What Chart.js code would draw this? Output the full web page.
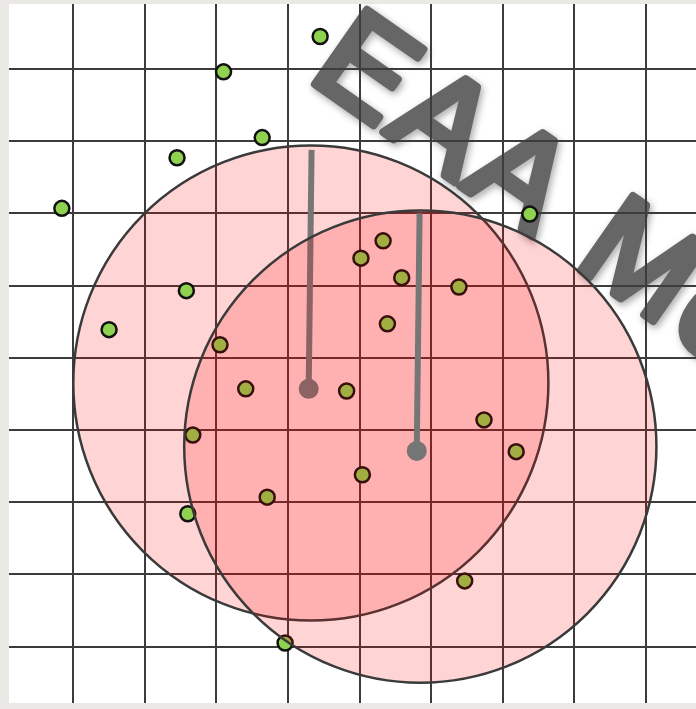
<!DOCTYPE html>
<html>
<head>
<meta charset="utf-8">
<script src="https://cdn.jsdelivr.net/npm/chart.js@4/dist/chart.umd.min.js"></script>
<style>
  html, body { margin: 0; padding: 0; background: #ebe9e5; }
  #wrap { width: 696px; height: 709px; }
</style>
</head>
<body>
<div id="wrap"><canvas id="myChart" width="696" height="709"></canvas></div>
<script>
"use strict";
// grid lines
const gridX = [1, 2, 3, 4, 5, 6, 7, 8, 9];
const gridY = [1, 2, 3, 4, 5, 6, 7, 8, 9];

// sample points
const pointX = [4.45, 3.10, 3.64, 2.45, 0.84, 7.38, 2.58, 1.50, 2.60, 3.96,
  5.33, 5.02, 5.59, 6.39, 5.39, 3.05, 3.41, 4.82, 2.67, 6.74, 7.19, 5.04, 3.71, 6.47];
const pointY = [9.45, 8.96, 8.05, 7.77, 7.07, 6.99, 5.93, 5.39, 2.84, 1.05,
  6.62, 6.38, 6.11, 5.98, 5.47, 5.18, 4.57, 4.54, 3.93, 4.14, 3.70, 3.38, 3.07, 1.91];

// two clusters: circle centre, radius, centroid and handle end
const circleX = [4.32, 5.85];
const circleY = [4.65, 3.77];
const circleR = [3.32, 3.30];
const centroidX = [4.29, 5.80];
const centroidY = [4.57, 3.71];
const handleX = [4.33, 5.84];
const handleY = [7.88, 7.00];

const watermark = "EAA Mo";

const pts = pointX.map((x, i) => ({ x: x, y: pointY[i] }));

function circleSet(i, order) {
  return {
    type: "bubble",
    data: [{ x: circleX[i], y: circleY[i], r: 1 }],
    backgroundColor: "rgba(255, 0, 0, 0.17)",
    borderColor: "#3a3a3a",
    borderWidth: 2.5,
    clip: false,
    order: order,
  };
}

function handleSet(i, order) {
  return {
    type: "line",
    data: [
      { x: centroidX[i], y: centroidY[i] },
      { x: handleX[i], y: handleY[i] },
    ],
    borderColor: "#767676",
    borderWidth: 6,
    pointRadius: (c) => (c.dataIndex === 0 ? 10 : 0),
    pointBackgroundColor: "#767676",
    pointBorderWidth: 0,
    clip: false,
    order: order,
  };
}

const paper = {
  id: "paper",
  beforeDraw(chart) {
    const { ctx, chartArea: a } = chart;
    ctx.save();
    ctx.fillStyle = "#ffffff";
    ctx.fillRect(a.left, a.top, a.right - a.left, a.bottom - a.top);
    // watermark
    ctx.translate(306, 78);
    ctx.rotate((35 * Math.PI) / 180);
    ctx.font = '132px "Liberation Sans", Arial, sans-serif';
    ctx.letterSpacing = "6px";
    ctx.textBaseline = "alphabetic";
    ctx.lineJoin = "round";
    ctx.lineCap = "round";
    ctx.lineWidth = 8;
    ctx.strokeStyle = "#666666";
    ctx.fillStyle = "#666666";
    ctx.shadowColor = "rgba(0,0,0,0.35)";
    ctx.shadowBlur = 7;
    ctx.shadowOffsetX = 2;
    ctx.shadowOffsetY = 3;
    ctx.strokeText(watermark, 0, 0);
    ctx.shadowColor = "transparent";
    ctx.fillText(watermark, 0, 0);
    ctx.restore();
  },
};

const gridScale = (min, max, ticks) => ({
  type: "linear",
  min: min,
  max: max,
  afterBuildTicks: (s) => {
    s.ticks = ticks.map((v) => ({ value: v }));
  },
  ticks: { display: false },
  border: { display: false },
  grid: { color: "#3c3c3c", lineWidth: 2, drawTicks: false },
});

const ctx = document.getElementById("myChart").getContext("2d");
const myChart = new Chart(ctx, {
  type: "scatter",
  data: {
    datasets: [
      circleSet(0, 5),
      handleSet(0, 4),
      {
        type: "scatter",
        data: pts,
        pointRadius: 7.5,
        pointBorderWidth: 2.5,
        pointBackgroundColor: "#8fd24f",
        pointBorderColor: "#111111",
        order: 3,
      },
      circleSet(1, 2),
      handleSet(1, 1),
    ],
  },
  options: {
    responsive: false,
    animation: false,
    devicePixelRatio: 1,
    layout: { autoPadding: false, padding: { left: 9, top: 4, right: 0, bottom: 6 } },
    plugins: {
      legend: { display: false },
      tooltip: { enabled: false },
    },
    scales: {
      x: gridScale(0.1013, 9.703, gridX),
      y: gridScale(0.219, 9.9, gridY),
    },
  },
  plugins: [paper],
});

// bubble radius in pixels from the cluster radius in x units
const xs = myChart.scales.x;
[0, 3].forEach((d, i) => {
  myChart.data.datasets[d].data[0].r =
    xs.getPixelForValue(circleX[i] + circleR[i]) - xs.getPixelForValue(circleX[i]);
});
myChart.update();
</script>
</body>
</html>
